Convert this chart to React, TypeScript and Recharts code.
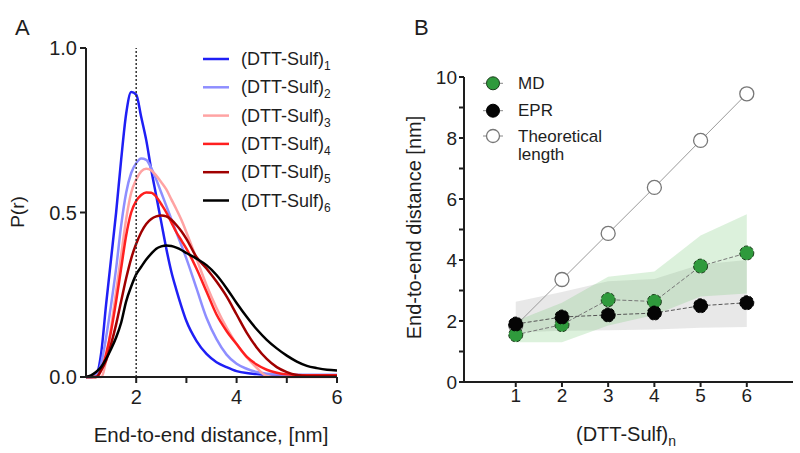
import React from "react";
import { Area, ComposedChart, Legend, Line, LineChart, ReferenceLine, XAxis, YAxis } from "recharts";

const FONT = '"Liberation Sans", Arial, Helvetica, sans-serif';
const INK = "#1e1e1e";

// Panel A: P(r) distance distributions
const distanceGrid = [1.0, 1.1, 1.2, 1.3, 1.4, 1.5, 1.6, 1.7, 1.8, 1.9, 2.0, 2.1, 2.2, 2.3, 2.4, 2.5, 2.6, 2.7, 2.8, 2.9, 3.0, 3.2, 3.4, 3.6, 3.8, 4.0, 4.2, 4.4, 4.6, 4.8, 5.0, 5.2, 5.4, 5.6, 5.8, 6.0];
const sulf1 = [0, 0, 0.005, 0.07, 0.22, 0.36, 0.5, 0.66, 0.8, 0.866, 0.858, 0.79, 0.72, 0.63, 0.55, 0.47, 0.39, 0.32, 0.265, 0.215, 0.17, 0.11, 0.07, 0.045, 0.03, 0.018, 0.012, 0.009, 0.007, 0.006, 0.005, 0.005, 0.005, 0.005, 0.005, 0.005];
const sulf2 = [0, 0, 0.005, 0.04, 0.12, 0.22, 0.33, 0.46, 0.56, 0.62, 0.65, 0.664, 0.66, 0.635, 0.6, 0.56, 0.52, 0.48, 0.44, 0.4, 0.36, 0.27, 0.18, 0.115, 0.068, 0.04, 0.025, 0.015, 0.01, 0.008, 0.007, 0.007, 0.007, 0.007, 0.007, 0.007];
const sulf3 = [0, 0, 0, 0, 0.05, 0.15, 0.26, 0.37, 0.48, 0.56, 0.6, 0.625, 0.633, 0.628, 0.612, 0.592, 0.57, 0.54, 0.51, 0.478, 0.44, 0.36, 0.28, 0.21, 0.15, 0.1, 0.06, 0.028, 0.003, 0, 0, 0, 0, 0, 0, 0];
const sulf4 = [0, 0, 0, 0.02, 0.07, 0.14, 0.23, 0.33, 0.43, 0.5, 0.535, 0.553, 0.561, 0.56, 0.548, 0.525, 0.5, 0.47, 0.44, 0.415, 0.39, 0.33, 0.26, 0.19, 0.14, 0.1, 0.062, 0.038, 0.022, 0.013, 0.008, 0.006, 0.005, 0.005, 0.005, 0.005];
const sulf5 = [0, 0, 0, 0.02, 0.05, 0.1, 0.16, 0.23, 0.3, 0.36, 0.405, 0.44, 0.465, 0.48, 0.488, 0.491, 0.488, 0.478, 0.462, 0.443, 0.42, 0.365, 0.33, 0.29, 0.245, 0.19, 0.135, 0.09, 0.055, 0.03, 0.015, 0.006, 0.003, 0.003, 0.003, 0.003];
const sulf6 = [0, 0.005, 0.015, 0.03, 0.055, 0.085, 0.12, 0.165, 0.23, 0.275, 0.312, 0.335, 0.357, 0.375, 0.39, 0.397, 0.4, 0.398, 0.393, 0.386, 0.377, 0.36, 0.34, 0.31, 0.27, 0.225, 0.183, 0.145, 0.113, 0.087, 0.065, 0.047, 0.034, 0.027, 0.022, 0.02];

const seriesA = [
  { sub: "1", values: sulf1, color: "#1f1ff5" },
  { sub: "2", values: sulf2, color: "#8e8eff" },
  { sub: "3", values: sulf3, color: "#ffa3a3" },
  { sub: "4", values: sulf4, color: "#ff1f1f" },
  { sub: "5", values: sulf5, color: "#a00000" },
  { sub: "6", values: sulf6, color: "#000000" },
];

// Panel B: end-to-end distance vs number of units
const units = [1, 2, 3, 4, 5, 6];
const mdDistance = [1.55, 1.88, 2.7, 2.64, 3.8, 4.23];
const eprDistance = [1.9, 2.13, 2.2, 2.26, 2.5, 2.6];
const theoreticalLength = [1.85, 3.36, 4.87, 6.38, 7.92, 9.45];
const mdLow = [1.3, 1.3, 1.85, 2.2, 2.8, 2.9];
const mdHigh = [2.0, 2.6, 3.45, 3.62, 4.8, 5.5];
const eprLow = [1.62, 1.68, 1.7, 1.72, 1.78, 1.8];
const eprHigh = [2.63, 2.95, 3.3, 3.38, 3.85, 4.0];

const panelBData = units.map((n, i) => ({
  n,
  md: mdDistance[i],
  epr: eprDistance[i],
  theo: theoreticalLength[i],
  mdBand: [mdLow[i], mdHigh[i]],
  eprBand: [eprLow[i], eprHigh[i]],
}));

const axisStyle = { stroke: INK, strokeWidth: 2 };

const LegendA = () => (
  <svg width={150} height={175}>
    {seriesA.map((s, i) => (
      <g key={s.sub} transform={`translate(0, ${i * 28.3})`}>
        <line x1={0} x2={26} y1={10} y2={10} stroke={s.color} strokeWidth={2.5} />
        <text x={38} y={16} fontSize={18} fontFamily={FONT} fill={INK}>
          (DTT-Sulf)
          <tspan dy={5} fontSize={12}>
            {s.sub}
          </tspan>
        </text>
      </g>
    ))}
  </svg>
);

const LegendB = () => (
  <svg width={130} height={100}>
    <line x1={0} x2={20} y1={13.3} y2={13.3} stroke="#888" strokeWidth={1} />
    <circle cx={10} cy={13.3} r={6.5} fill="#2f9a3c" stroke="#1b3b1b" strokeWidth={1} />
    <text x={35} y={18.5} fontSize={17} fontFamily={FONT} fill={INK}>MD</text>
    <line x1={0} x2={20} y1={40.7} y2={40.7} stroke="#888" strokeWidth={1} />
    <circle cx={10} cy={40.7} r={6.5} fill="#050505" stroke="#000" strokeWidth={1} />
    <text x={35} y={46} fontSize={17} fontFamily={FONT} fill={INK}>EPR</text>
    <line x1={0} x2={20} y1={66} y2={66} stroke="#888" strokeWidth={1} />
    <circle cx={10} cy={66} r={6.5} fill="#fff" stroke="#777" strokeWidth={1.3} />
    <text x={35} y={71.7} fontSize={17} fontFamily={FONT} fill={INK}>Theoretical</text>
    <text x={35} y={90} fontSize={17} fontFamily={FONT} fill={INK}>length</text>
  </svg>
);

const PanelA = () => (
  <LineChart width={400} height={453} margin={{ top: 48, right: 63, bottom: 46, left: 36 }}>
    <XAxis
      type="number"
      dataKey="r"
      domain={[1, 6]}
      ticks={[2, 3, 4, 5, 6]}
      tickFormatter={(v: number) => (v % 2 === 0 ? String(v) : "")}
      height={30}
      tickSize={6}
      tickMargin={7}
      axisLine={axisStyle}
      tickLine={axisStyle}
      tick={{ fill: INK, fontSize: 20, fontFamily: FONT }}
      allowDuplicatedCategory={false}
    />
    <YAxis
      type="number"
      domain={[0, 1]}
      ticks={[0, 0.5, 1]}
      tickFormatter={(v: number) => v.toFixed(1)}
      width={50}
      tickSize={6}
      tickMargin={3}
      axisLine={axisStyle}
      tickLine={axisStyle}
      tick={{ fill: INK, fontSize: 20, fontFamily: FONT }}
    />
    {seriesA.map((s) => (
      <Line
        key={s.sub}
        data={distanceGrid.map((r, i) => ({ r, p: s.values[i] }))}
        dataKey="p"
        type="monotone"
        stroke={s.color}
        strokeWidth={2.5}
        dot={false}
        isAnimationActive={false}
      />
    ))}
    <ReferenceLine x={2} stroke="#333" strokeWidth={1.5} strokeDasharray="2 2" />
    <Legend
      layout="horizontal"
      verticalAlign="middle"
      align="center"
      content={() => <LegendA />}
      wrapperStyle={{ left: 203, top: 49, width: 150, height: 175 }}
    />
  </LineChart>
);

const PanelB = () => (
  <ComposedChart width={400} height={453} data={panelBData} margin={{ top: 77, right: 7, bottom: 41, left: 24 }}>
    <XAxis
      type="number"
      dataKey="n"
      domain={[-0.12, 7]}
      ticks={units}
      height={30}
      tickSize={5}
      tickMargin={2}
      axisLine={axisStyle}
      tickLine={axisStyle}
      tick={{ fill: INK, fontSize: 19, fontFamily: FONT }}
    />
    <YAxis
      type="number"
      domain={[0, 10]}
      ticks={[0, 1, 2, 3, 4, 5, 6, 7, 8, 9, 10]}
      tickFormatter={(v: number) => (v % 2 === 0 ? String(v) : "")}
      width={40}
      tickSize={5}
      tickMargin={2}
      axisLine={axisStyle}
      tickLine={axisStyle}
      tick={{ fill: INK, fontSize: 19, fontFamily: FONT }}
    />
    <Area dataKey="eprBand" type="linear" stroke="none" fill="#969696" fillOpacity={0.22} isAnimationActive={false} />
    <Area dataKey="mdBand" type="linear" stroke="none" fill="#78c878" fillOpacity={0.26} isAnimationActive={false} />
    <Line
      dataKey="theo"
      type="linear"
      stroke="#9a9a9a"
      strokeWidth={1}
      dot={{ r: 7, fill: "#fff", stroke: "#777", strokeWidth: 1.3 }}
      isAnimationActive={false}
    />
    <Line
      dataKey="md"
      type="linear"
      stroke="#777"
      strokeWidth={1}
      strokeDasharray="4 2"
      dot={{ r: 7, fill: "#2f9a3c", stroke: "#1b3b1b", strokeWidth: 1 }}
      isAnimationActive={false}
    />
    <Line
      dataKey="epr"
      type="linear"
      stroke="#555"
      strokeWidth={1}
      strokeDasharray="4 2"
      dot={{ r: 7, fill: "#050505", stroke: "#000", strokeWidth: 1 }}
      isAnimationActive={false}
    />
    <Legend
      layout="horizontal"
      verticalAlign="middle"
      align="center"
      content={() => <LegendB />}
      wrapperStyle={{ left: 83, top: 70, width: 130, height: 100 }}
    />
  </ComposedChart>
);

export default function App() {
  return (
    <div style={{ position: "absolute", left: 0, top: 0, width: 800, height: 453, background: "#fff", fontFamily: FONT }}>
      <div style={{ position: "absolute", left: 0, top: 0 }}>
        <PanelA />
      </div>
      <div style={{ position: "absolute", left: 400, top: 0 }}>
        <PanelB />
      </div>
      <svg width={800} height={453} style={{ position: "absolute", left: 0, top: 0, pointerEvents: "none" }}>
        <text x={15} y={35} fontSize={22} fontFamily={FONT} fill={INK}>A</text>
        <text x={414} y={35} fontSize={22} fontFamily={FONT} fill={INK}>B</text>
        <text x={24} y={212} fontSize={19} fontFamily={FONT} fill={INK} textAnchor="middle" transform="rotate(-90, 24, 212)">
          P(r)
        </text>
        <text x={211} y={441.5} fontSize={20.5} fontFamily={FONT} fill={INK} textAnchor="middle">
          End-to-end distance, [nm]
        </text>
        <text x={421} y={227.5} fontSize={20} fontFamily={FONT} fill={INK} textAnchor="middle" transform="rotate(-90, 421, 227.5)">
          End-to-end distance [nm]
        </text>
        <text x={626} y={441} fontSize={20} fontFamily={FONT} fill={INK} textAnchor="middle">
          (DTT-Sulf)
          <tspan dy={5} fontSize={14}>n</tspan>
        </text>
      </svg>
    </div>
  );
}
